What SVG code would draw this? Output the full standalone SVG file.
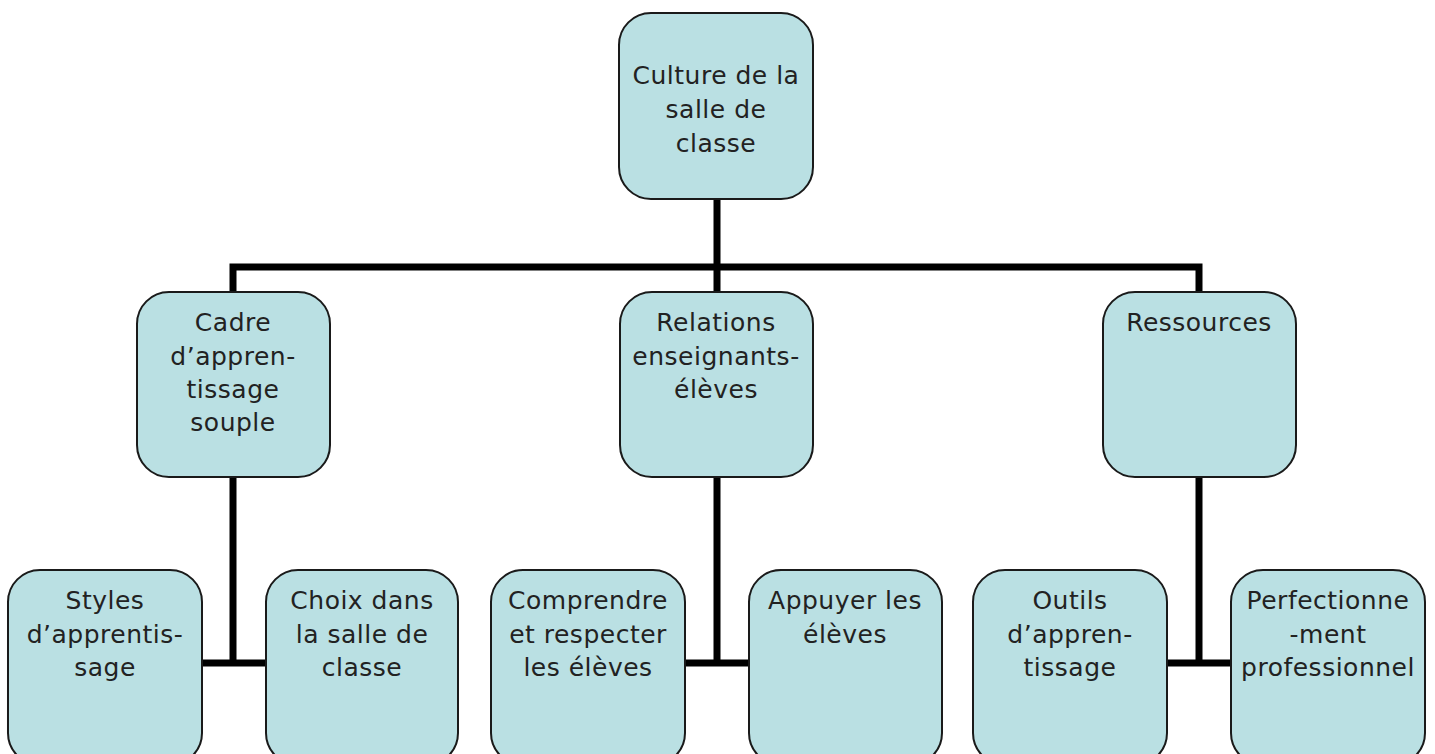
<svg xmlns="http://www.w3.org/2000/svg" width="1435" height="754" viewBox="0 0 1435 754">
<style>
.box{fill:#BAE0E3;stroke:#1a1a1a;stroke-width:2}
.lbl{font-family:"DejaVu Sans",sans-serif;font-size:25px;letter-spacing:0.5px;fill:#222;text-anchor:middle}
.con{stroke:#000;stroke-width:7;fill:none;stroke-linejoin:miter}
</style>
<rect width="1435" height="754" fill="#fff"/>
<g id="connectors">
<path class="con" d="M717 199V663M233 663V267H1199V663M201 663H267M685 663H749M1167 663H1231"/>
</g>
<g id="n-root"><rect class="box" x="619" y="13" width="194" height="186" rx="32"/>
<text class="lbl"><tspan x="716" y="84">Culture de la</tspan><tspan x="716" y="118">salle de</tspan><tspan x="716" y="152">classe</tspan></text></g>
<g id="n-cadre"><rect class="box" x="137" y="292" width="193" height="185" rx="32"/>
<text class="lbl"><tspan x="233" y="331">Cadre</tspan><tspan x="233" y="365">d’appren-</tspan><tspan x="233" y="398">tissage</tspan><tspan x="233" y="431">souple</tspan></text></g>
<g id="n-relations"><rect class="box" x="620" y="292" width="193" height="185" rx="32"/>
<text class="lbl"><tspan x="716" y="331">Relations</tspan><tspan x="716" y="365">enseignants-</tspan><tspan x="716" y="398">élèves</tspan></text></g>
<g id="n-ressources"><rect class="box" x="1103" y="292" width="193" height="185" rx="32"/>
<text class="lbl"><tspan x="1199" y="331">Ressources</tspan></text></g>
<g id="n-styles"><rect class="box" x="8" y="570" width="194" height="195" rx="32"/>
<text class="lbl"><tspan x="105" y="609">Styles</tspan><tspan x="105" y="643">d’apprentis-</tspan><tspan x="105" y="676">sage</tspan></text></g>
<g id="n-choix"><rect class="box" x="266" y="570" width="192" height="195" rx="32"/>
<text class="lbl"><tspan x="362" y="609">Choix dans</tspan><tspan x="362" y="643">la salle de</tspan><tspan x="362" y="676">classe</tspan></text></g>
<g id="n-comprendre"><rect class="box" x="491" y="570" width="194" height="195" rx="32"/>
<text class="lbl"><tspan x="588" y="609">Comprendre</tspan><tspan x="588" y="643">et respecter</tspan><tspan x="588" y="676">les élèves</tspan></text></g>
<g id="n-appuyer"><rect class="box" x="749" y="570" width="193" height="195" rx="32"/>
<text class="lbl"><tspan x="845" y="609">Appuyer les</tspan><tspan x="845" y="643">élèves</tspan></text></g>
<g id="n-outils"><rect class="box" x="973" y="570" width="194" height="195" rx="32"/>
<text class="lbl"><tspan x="1070" y="609">Outils</tspan><tspan x="1070" y="643">d’appren-</tspan><tspan x="1070" y="676">tissage</tspan></text></g>
<g id="n-perfectionnement"><rect class="box" x="1231" y="570" width="194" height="195" rx="32"/>
<text class="lbl"><tspan x="1328" y="609">Perfectionne</tspan><tspan x="1328" y="643">-ment</tspan><tspan x="1328" y="676">professionnel</tspan></text></g>
</svg>
